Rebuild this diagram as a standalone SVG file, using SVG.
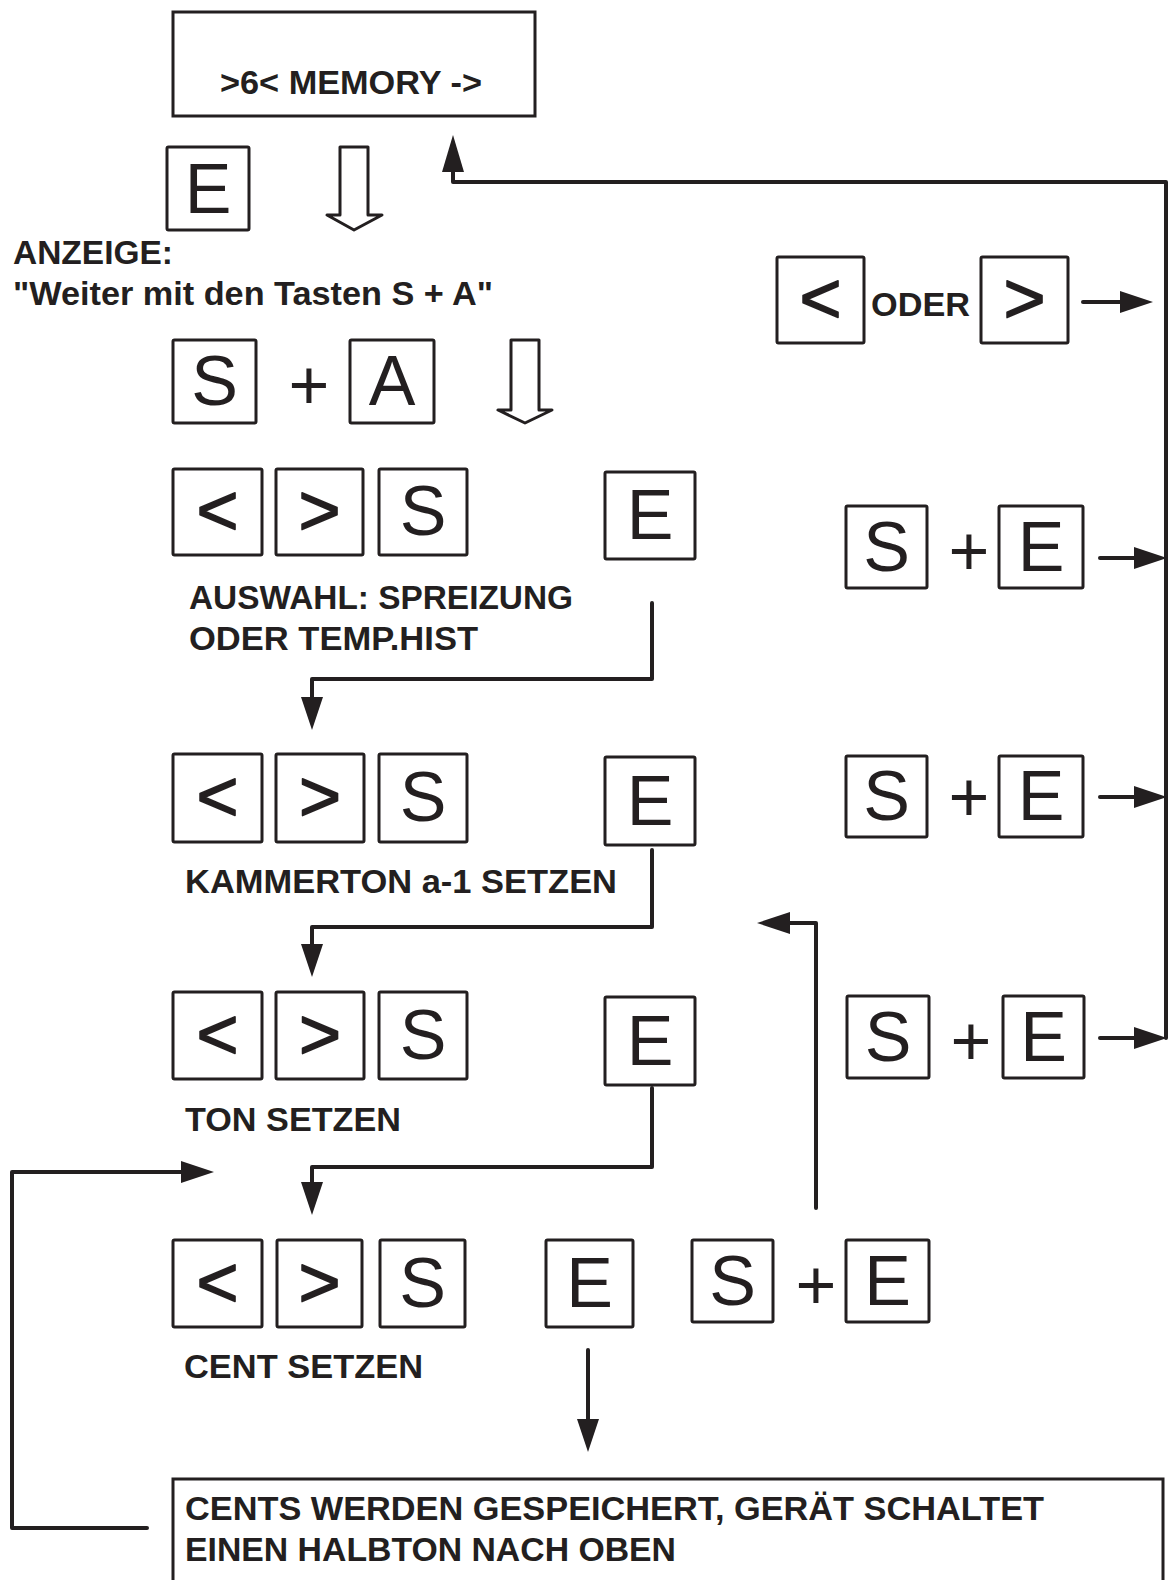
<svg xmlns="http://www.w3.org/2000/svg" width="1170" height="1580" viewBox="0 0 1170 1580">
<style>
.bg{fill:#ffffff}
.key{fill:none;stroke:#231f20;stroke-width:3;stroke-linejoin:round}
.kl{font-family:"Liberation Sans",Arial,sans-serif;font-size:70px;fill:#231f20;text-anchor:middle}
.ch{font-family:"Liberation Sans",Arial,sans-serif;font-size:72px;fill:#231f20;text-anchor:middle;stroke:#231f20;stroke-width:1.6;stroke-linejoin:round}
.lbl{font-family:"Liberation Sans",Arial,sans-serif;font-weight:bold;font-size:33px;fill:#231f20}
.box{fill:none;stroke:#231f20;stroke-width:3}
.c{fill:none;stroke:#231f20;stroke-width:4;stroke-linejoin:round;stroke-linecap:round}
.hollow{fill:#ffffff;stroke:#231f20;stroke-width:3;stroke-linejoin:round}
</style>
<defs>
<marker id="ah" viewBox="0 0 33 22" refX="5" refY="11" markerWidth="33" markerHeight="22" markerUnits="userSpaceOnUse" orient="auto">
<path d="M0,0 L33,11 L0,22 Z" fill="#231f20"/>
</marker>
<marker id="ahL" viewBox="0 0 37 22" refX="5" refY="11" markerWidth="37" markerHeight="22" markerUnits="userSpaceOnUse" orient="auto">
<path d="M0,0 L37,11 L0,22 Z" fill="#231f20"/>
</marker>
</defs>
<rect class="bg" x="0" y="0" width="1170" height="1580"/>

<g id="display">
<rect class="box" x="173" y="12" width="362" height="104"/>
<text class="lbl" x="220" y="94" textLength="262" lengthAdjust="spacingAndGlyphs">&gt;6&lt; MEMORY -&gt;</text>
</g>

<g id="key-e-top">
<rect class="key" x="167" y="147" width="82" height="83" rx="1.5"/>
<text class="kl" x="208" y="213">E</text>
</g>

<g id="hollow-arrow-1">
<path class="hollow" d="M340,147 L368,147 L368,215 L382,215 L354,230 L327,215 L340,215 Z"/>
</g>

<g id="anzeige">
<text class="lbl" x="13" y="264" textLength="160" lengthAdjust="spacingAndGlyphs">ANZEIGE:</text>
<text class="lbl" x="13" y="305" textLength="480" lengthAdjust="spacingAndGlyphs">"Weiter mit den Tasten S + A"</text>
</g>

<g id="keys-s-plus-a">
<rect class="key" x="173" y="340" width="83" height="83" rx="1.5"/>
<text class="kl" x="214.5" y="405">S</text>
<text class="kl" x="309" y="409">+</text>
<rect class="key" x="350" y="340" width="84" height="83" rx="1.5"/>
<text class="kl" x="392" y="405">A</text>
</g>

<g id="hollow-arrow-2">
<path class="hollow" d="M511,340 L539,340 L539,410 L552,410 L525,423 L498,410 L511,410 Z"/>
</g>

<g id="keys-oder">
<rect class="key" x="777" y="257" width="87" height="86" rx="1.5"/>
<text class="ch" x="820.5" y="323">&lt;</text>
<text class="lbl" x="871" y="316" font-size="34" textLength="99" lengthAdjust="spacingAndGlyphs">ODER</text>
<rect class="key" x="981" y="257" width="87" height="86" rx="1.5"/>
<text class="ch" x="1024.5" y="323">&gt;</text>
</g>

<g id="row-spreizung">
<rect class="key" x="173" y="469" width="89" height="86" rx="1.5"/>
<text class="ch" x="217.5" y="535">&lt;</text>
<rect class="key" x="276" y="469" width="87" height="86" rx="1.5"/>
<text class="ch" x="319.5" y="535">&gt;</text>
<rect class="key" x="379" y="469" width="88" height="86" rx="1.5"/>
<text class="kl" x="423" y="535">S</text>
<rect class="key" x="605" y="472" width="90" height="87" rx="1.5"/>
<text class="kl" x="650" y="539">E</text>
<text class="lbl" x="189" y="609" textLength="384" lengthAdjust="spacingAndGlyphs">AUSWAHL: SPREIZUNG</text>
<text class="lbl" x="189" y="650" textLength="289" lengthAdjust="spacingAndGlyphs">ODER TEMP.HIST</text>
</g>

<g id="keys-s-plus-e-1">
<rect class="key" x="846" y="506" width="81" height="82" rx="1.5"/>
<text class="kl" x="886.5" y="571">S</text>
<text class="kl" x="969" y="575">+</text>
<rect class="key" x="999" y="506" width="84" height="82" rx="1.5"/>
<text class="kl" x="1041" y="571">E</text>
</g>

<g id="row-kammerton">
<rect class="key" x="173" y="754" width="89" height="88" rx="1.5"/>
<text class="ch" x="217.5" y="821">&lt;</text>
<rect class="key" x="276" y="754" width="88" height="88" rx="1.5"/>
<text class="ch" x="320" y="821">&gt;</text>
<rect class="key" x="379" y="754" width="88" height="88" rx="1.5"/>
<text class="kl" x="423" y="821">S</text>
<rect class="key" x="605" y="757" width="90" height="88" rx="1.5"/>
<text class="kl" x="650" y="825">E</text>
<text class="lbl" x="185" y="893" textLength="432" lengthAdjust="spacingAndGlyphs">KAMMERTON a-1 SETZEN</text>
</g>

<g id="keys-s-plus-e-2">
<rect class="key" x="846" y="756" width="81" height="81" rx="1.5"/>
<text class="kl" x="886.5" y="820">S</text>
<text class="kl" x="969" y="821">+</text>
<rect class="key" x="999" y="756" width="84" height="81" rx="1.5"/>
<text class="kl" x="1041" y="820">E</text>
</g>

<g id="row-ton">
<rect class="key" x="173" y="992" width="89" height="87" rx="1.5"/>
<text class="ch" x="217.5" y="1059">&lt;</text>
<rect class="key" x="276" y="992" width="88" height="87" rx="1.5"/>
<text class="ch" x="320" y="1059">&gt;</text>
<rect class="key" x="379" y="992" width="88" height="87" rx="1.5"/>
<text class="kl" x="423" y="1059">S</text>
<rect class="key" x="605" y="997" width="90" height="88" rx="1.5"/>
<text class="kl" x="650" y="1065">E</text>
<text class="lbl" x="185" y="1131" textLength="216" lengthAdjust="spacingAndGlyphs">TON SETZEN</text>
</g>

<g id="keys-s-plus-e-3">
<rect class="key" x="847" y="996" width="82" height="82" rx="1.5"/>
<text class="kl" x="888" y="1061">S</text>
<text class="kl" x="971" y="1065">+</text>
<rect class="key" x="1003" y="996" width="81" height="82" rx="1.5"/>
<text class="kl" x="1043.5" y="1061">E</text>
</g>

<g id="row-cent">
<rect class="key" x="173" y="1240" width="89" height="87" rx="1.5"/>
<text class="ch" x="217.5" y="1307">&lt;</text>
<rect class="key" x="277" y="1240" width="85" height="87" rx="1.5"/>
<text class="ch" x="319.5" y="1307">&gt;</text>
<rect class="key" x="380" y="1240" width="85" height="87" rx="1.5"/>
<text class="kl" x="422.5" y="1307">S</text>
<rect class="key" x="546" y="1240" width="87" height="87" rx="1.5"/>
<text class="kl" x="589.5" y="1307">E</text>
<text class="lbl" x="184" y="1378" textLength="239" lengthAdjust="spacingAndGlyphs">CENT SETZEN</text>
</g>

<g id="keys-s-plus-e-4">
<rect class="key" x="692" y="1240" width="81" height="82" rx="1.5"/>
<text class="kl" x="732.5" y="1305">S</text>
<text class="kl" x="816" y="1309">+</text>
<rect class="key" x="846" y="1240" width="83" height="82" rx="1.5"/>
<text class="kl" x="887.5" y="1305">E</text>
</g>

<g id="result-box">
<rect class="box" x="173" y="1479" width="990" height="130"/>
<text class="lbl" x="185" y="1520" textLength="859" lengthAdjust="spacingAndGlyphs">CENTS WERDEN GESPEICHERT, GERÄT SCHALTET</text>
<text class="lbl" x="185" y="1561" textLength="491" lengthAdjust="spacingAndGlyphs">EINEN HALBTON NACH OBEN</text>
</g>

<g id="connectors">
<path class="c" d="M1166,1038 L1166,182 L453,182 L453,167" marker-end="url(#ahL)"/>
<path class="c" d="M1083,302 L1125,302" marker-end="url(#ah)"/>
<path class="c" d="M1100,558 L1139,558" marker-end="url(#ah)"/>
<path class="c" d="M1100,797 L1139,797" marker-end="url(#ah)"/>
<path class="c" d="M1100,1038 L1139,1038" marker-end="url(#ah)"/>
<path class="c" d="M652,603 L652,679 L312,679 L312,702" marker-end="url(#ah)"/>
<path class="c" d="M652,850 L652,927 L312,927 L312,949" marker-end="url(#ah)"/>
<path class="c" d="M652,1088 L652,1167 L312,1167 L312,1187" marker-end="url(#ah)"/>
<path class="c" d="M147,1528 L12,1528 L12,1172 L186,1172" marker-end="url(#ah)"/>
<path class="c" d="M588,1350 L588,1424" marker-end="url(#ah)"/>
<path class="c" d="M816,1208 L816,923 L785,923" marker-end="url(#ah)"/>
</g>
</svg>
